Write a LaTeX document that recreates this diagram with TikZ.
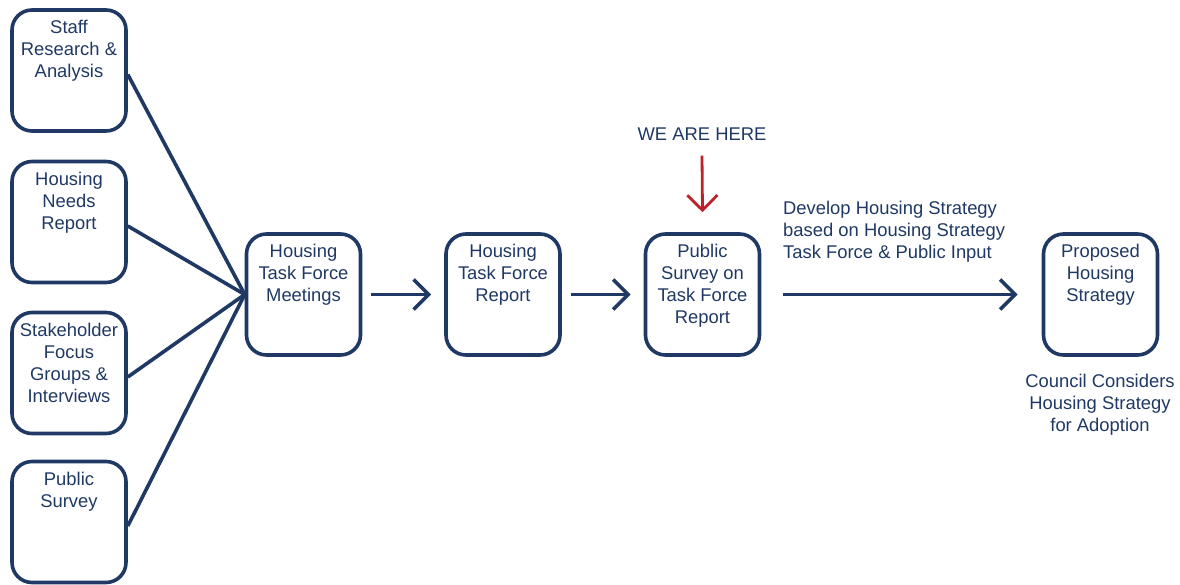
\documentclass[tikz,border=0pt]{standalone}
\usepackage{fontspec}
\setmainfont{Liberation Sans}
\usetikzlibrary{arrows.meta}
\definecolor{navy}{HTML}{1F3864}
\definecolor{hered}{HTML}{C0202A}
\begin{document}
\begin{tikzpicture}[x=1pt,y=-1pt,
  box/.style={draw=navy, line width=3.6pt, rounded corners=20pt, minimum width=114pt, minimum height=121pt, inner sep=0pt},
  txt/.style={text=navy, font=\fontsize{18.4pt}{22pt}\selectfont, align=center, inner sep=0pt, anchor=north},
  link/.style={draw=navy, line width=3.6pt},
  arr/.style={draw=navy, line width=3.6pt, -{Straight Barb[length=15pt,width=30pt,line width=3.6pt]}},
  redarr/.style={draw=hered, line width=2.8pt, -{Straight Barb[length=15pt,width=30pt,line width=2.8pt]}}]
\useasboundingbox (0,0) rectangle (1180,584);
% left column
\node[box] (b1) at (69,70.5) {};
\node[box] (b2) at (69,222) {};
\node[box] (b3) at (69,373) {};
\node[box] (b4) at (69,522) {};
\node[txt] (t1) at ([yshift=-12pt]b1.north) {Staff\\Research \&\\Analysis};
\node[txt] (t2) at ([yshift=-12pt]b2.north) {Housing\\Needs\\Report};
\node[txt] (t3) at ([yshift=-12pt]b3.north) {Stakeholder\\Focus\\Groups \&\\Interviews};
\node[txt] (t4) at ([yshift=-12pt]b4.north) {Public\\Survey};
% main row
\node[box] (m) at (303.5,294.5) {};
\node[box] (r) at (503,294.5) {};
\node[box] (s) at (702.5,294.5) {};
\node[box] (p) at (1100.5,294.5) {};
\node[txt] (tm) at ([yshift=-12pt]m.north) {Housing\\Task Force\\Meetings};
\node[txt] (tr) at ([yshift=-12pt]r.north) {Housing\\Task Force\\Report};
\node[txt] (ts) at ([yshift=-12pt]s.north) {Public\\Survey on\\Task Force\\Report};
\node[txt] (tp) at ([yshift=-12pt]p.north) {Proposed\\Housing\\Strategy};
% converging lines
\draw[link] ([yshift=-4pt]b1.east) -- (m.west);
\draw[link] ([yshift=-4pt]b2.east) -- (m.west);
\draw[link] ([yshift=-4pt]b3.east) -- (m.west);
\draw[link] ([yshift=-4pt]b4.east) -- (m.west);
% arrows
\draw[arr] ([xshift=9pt]m.east) -- ([xshift=-13pt]r.west);
\draw[arr] ([xshift=9pt]r.east) -- ([xshift=-13pt]s.west);
\draw[arr] ([xshift=22pt]s.east) -- ([xshift=-24pt]p.west);
% labels
\node[text=navy, font=\fontsize{18.4pt}{22pt}\selectfont, inner sep=0pt] (we) at (702,134) {WE ARE HERE};
\draw[redarr] ([yshift=-15pt]we.south) -- ([yshift=20pt]s.north);
\node[text=navy, font=\fontsize{18.4pt}{22pt}\selectfont, align=left, inner sep=0pt, anchor=north west] (dev) at (783,201) {Develop Housing Strategy\\based on Housing Strategy\\Task Force \& Public Input};
\node[txt] (cc) at (1100,374) {Council Considers\\Housing Strategy\\for Adoption};
\end{tikzpicture}
\end{document}
